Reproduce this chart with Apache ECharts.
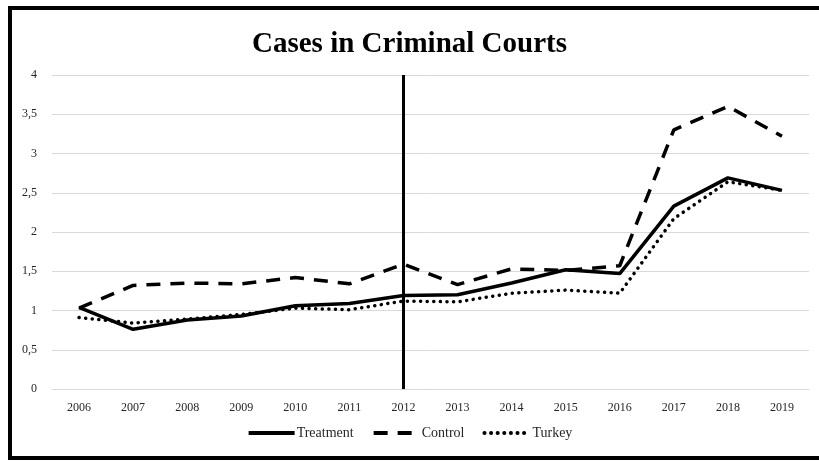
<!DOCTYPE html>
<html>
<head>
<meta charset="utf-8">
<script src="https://cdn.jsdelivr.net/npm/echarts@6/dist/echarts.min.js"></script>
<style>
  html, body { margin: 0; padding: 0; background: #fff; }
  #main { width: 819px; height: 462px; }
</style>
</head>
<body>
<div id="main"></div>
<script>
// years on the x axis
const years = ['2006','2007','2008','2009','2010','2011','2012','2013','2014','2015','2016','2017','2018','2019'];
// series values
const treatment = [1.04, 0.76, 0.88, 0.93, 1.06, 1.09, 1.19, 1.20, 1.35, 1.52, 1.47, 2.33, 2.69, 2.53];
const control   = [1.03, 1.32, 1.35, 1.34, 1.42, 1.34, 1.59, 1.33, 1.53, 1.51, 1.57, 3.30, 3.60, 3.22];
const turkey    = [0.91, 0.84, 0.89, 0.95, 1.03, 1.01, 1.12, 1.11, 1.22, 1.26, 1.22, 2.17, 2.64, 2.53];
const cutYear = '2012';

const chart = echarts.init(document.getElementById('main'));
const serif = 'Liberation Serif';

const option = {
  animation: false,
  textStyle: { fontFamily: serif, color: '#262626' },
  title: {
    text: 'Cases in Criminal Courts',
    left: 'center',
    top: 25,
    textStyle: { fontFamily: serif, fontSize: 29, fontWeight: 'bold', color: '#000' }
  },
  graphic: [{
    type: 'rect',
    shape: { x: 10, y: 8, width: 820, height: 450 },
    style: { fill: 'none', stroke: '#000', lineWidth: 4 },
    silent: true
  }],
  legend: {
    bottom: 17,
    left: 'center',
    itemWidth: 46,
    itemHeight: 12,
    itemGap: 18,
    textStyle: { fontFamily: serif, fontSize: 14, color: '#262626', padding: [0, 0, 0, -3] },
    itemStyle: { opacity: 0 },
    lineStyle: { width: 4 },
    data: ['Treatment', 'Control', 'Turkey']
  },
  grid: { left: 52, right: 10, top: 75, bottom: 73 },
  xAxis: {
    type: 'category',
    data: years,
    boundaryGap: true,
    axisLine: { lineStyle: { color: '#d9d9d9' } },
    axisTick: { show: false },
    axisLabel: { fontFamily: serif, fontSize: 12, color: '#262626', margin: 13 }
  },
  yAxis: {
    type: 'value',
    min: 0,
    max: 4,
    interval: 0.5,
    axisLine: { show: false },
    axisTick: { show: false },
    splitLine: { lineStyle: { color: '#d9d9d9', width: 1 } },
    axisLabel: {
      fontFamily: serif, fontSize: 12, color: '#262626', margin: 15,
      formatter: v => String(v).replace('.', ',')
    }
  },
  series: [
    {
      name: 'Treatment',
      type: 'line',
      data: treatment,
      symbol: 'none',
      lineStyle: { color: '#000', width: 3.5 },
      itemStyle: { color: '#000' },
      markLine: {
        silent: true,
        symbol: 'none',
        label: { show: false },
        lineStyle: { color: '#000', width: 3, type: 'solid' },
        data: [{ xAxis: cutYear }]
      }
    },
    {
      name: 'Control',
      type: 'line',
      data: control,
      symbol: 'none',
      lineStyle: { color: '#000', width: 3.5, type: [14, 10] },
      itemStyle: { color: '#000' }
    },
    {
      name: 'Turkey',
      type: 'line',
      data: turkey,
      symbol: 'none',
      lineStyle: { color: '#000', width: 3.5, type: [0.1, 6.5], cap: 'round' },
      itemStyle: { color: '#000' }
    }
  ]
};

option && chart.setOption(option);
</script>
</body>
</html>
